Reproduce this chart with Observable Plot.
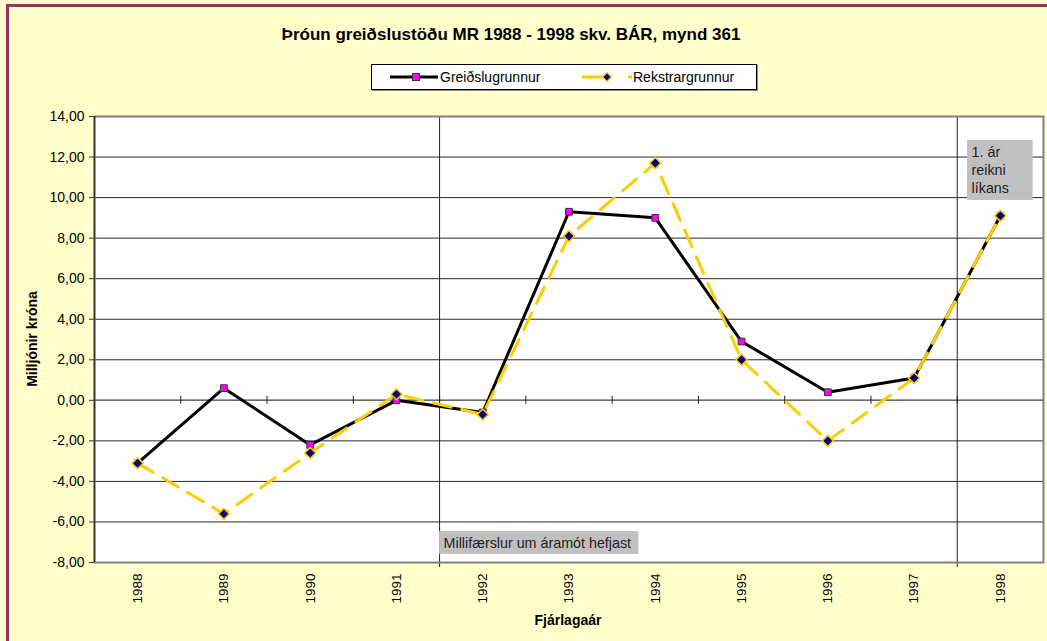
<!DOCTYPE html>
<html>
<head>
<meta charset="utf-8">
<script src="https://cdn.jsdelivr.net/npm/d3@7"></script>
<script src="https://cdn.jsdelivr.net/npm/@observablehq/plot@0.6"></script>
<style>
  html, body { margin: 0; padding: 0; background: #FFFFCC; }
  #wrap { position: relative; width: 1047px; height: 641px; background: #FFFFCC; overflow: hidden; font-family: "Liberation Sans", Arial, sans-serif; }
  #frame { position: absolute; left: 6px; top: 4px; width: 1100px; height: 700px; border-top: 3px solid #993366; border-left: 3px solid #993366; }
  #chart { position: absolute; left: 0; top: 0; }
  #title { position: absolute; top: 25px; left: 0; width: 1022px; text-align: center; font-weight: bold; font-size: 17px; line-height: 20px; color: #000; }
  #legend { position: absolute; left: 371px; top: 64px; width: 384px; height: 24px; background: #fff; border: 1px solid #000; box-shadow: 1px 1px 0 #888; font-size: 14px; }
  #legend .item { position: absolute; top: 0; height: 24px; line-height: 24px; }
  #legend svg { position: absolute; top: 0; }
  #ytitle { position: absolute; left: 32px; top: 339px; transform: translate(-50%, -50%) rotate(-90deg); font-weight: bold; font-size: 14px; white-space: nowrap; }
  #xtitle { position: absolute; left: 568px; top: 620px; transform: translate(-50%, -50%); font-weight: bold; font-size: 14px; white-space: nowrap; }
</style>
</head>
<body>
<div id="wrap">
  <div id="frame"></div>
  <div id="chart"></div>
  <div id="title"></div>
  <div id="legend"></div>
  <div id="ytitle"></div>
  <div id="xtitle"></div>
</div>
<script>
// ---- data ----
const years = [1988, 1989, 1990, 1991, 1992, 1993, 1994, 1995, 1996, 1997, 1998];
const greidslugrunnur = [-3.1, 0.6, -2.2, 0.0, -0.6, 9.3, 9.0, 2.9, 0.4, 1.1, 9.1];
const rekstrargrunnur = [-3.1, -5.6, -2.6, 0.3, -0.7, 8.1, 11.7, 2.0, -2.0, 1.1, 9.1];
const yTicks = [-8, -6, -4, -2, 0, 2, 4, 6, 8, 10, 12, 14];
const seriesNames = ["Greiðslugrunnur", "Rekstrargrunnur"];
const titleText = "Þróun greiðslustöðu MR 1988 - 1998 skv. BÁR, mynd 361";
const yLabel = "Milljónir króna";
const xLabel = "Fjárlagaár";
// dividers between fiscal years (category boundaries)
const dividers = [1991.5, 1997.5];
const annotations = [
  {x1: 1991.5, x2: 1993.81, y1: -7.6, y2: -6.47, lines: ["Millifærslur um áramót hefjast"]},
  {x1: 1997.62, x2: 1998.38, y1: 9.86, y2: 12.82, lines: ["1. ár", "reikni", "líkans"]}
];

const greid = years.map((y, i) => ({year: y, value: greidslugrunnur[i]}));
const rek = years.map((y, i) => ({year: y, value: rekstrargrunnur[i]}));
const boundaryTicks = years.map(y => y - 0.5);
const annoText = annotations.map(a => ({x: a.x1, y: a.y2, t: a.lines.join("\n")}));

const fmt = d => d.toFixed(2).replace(".", ",");

const chart = Plot.plot({
  width: 1047,
  height: 641,
  marginLeft: 94,
  marginRight: 4,
  marginTop: 116,
  marginBottom: 79,
  style: {background: "transparent", fontFamily: "Liberation Sans, Arial, sans-serif", fontSize: "14px", color: "#000", overflow: "visible"},
  x: {type: "linear", domain: [1987.5, 1998.5]},
  y: {domain: [-8, 14]},
  marks: [
    Plot.frame({fill: "white", stroke: null}),
    Plot.ruleY(yTicks, {stroke: "#2a2a2a", strokeWidth: 1}),
    Plot.ruleY([0], {stroke: "#6a6a6a", strokeWidth: 1.5}),
    Plot.ruleX(boundaryTicks, {x: d => d, y1: -0.2, y2: 0.2, stroke: "#222", strokeWidth: 1}),
    Plot.ruleX(dividers, {x: d => d, y1: -8.25, y2: 14, stroke: "#222", strokeWidth: 1, clip: false}),
    Plot.frame({stroke: "#808080", strokeWidth: 2}),
    Plot.ruleX([1987.5], {stroke: "#333", strokeWidth: 1.5}),
    Plot.rect(annotations, {x1: "x1", x2: "x2", y1: "y1", y2: "y2", fill: "#C0C0C0"}),
    Plot.text(annoText, {x: "x", y: "y", text: "t", dx: 4, dy: 3, textAnchor: "start", lineAnchor: "top", lineHeight: 1.29, fontSize: 14.3, fill: "#222"}),
    Plot.line(greid, {x: "year", y: "value", stroke: "#000", strokeWidth: 3}),
    Plot.line(rek, {x: "year", y: "value", stroke: "#FFCC00", strokeWidth: 3, strokeDasharray: "18,11"}),
    Plot.dot(greid, {x: "year", y: "value", symbol: "square", r: 3.8, fill: "#FF00FF", stroke: "#333", strokeWidth: 1}),
    Plot.dot(rek, {x: "year", y: "value", symbol: "diamond2", r: 5, fill: "#000080", stroke: "#FFCC00", strokeWidth: 1.5}),
    Plot.axisY({ticks: yTicks, tickFormat: fmt, tickSize: 5, tickPadding: 5, fontSize: 14, label: null, stroke: "#333"}),
    Plot.axisX({ticks: years, tickFormat: d => String(d), tickRotate: -90, tickSize: 0, tickPadding: 11, fontSize: 13.5, label: null})
  ]
});
document.getElementById("chart").appendChild(chart);

document.getElementById("title").textContent = titleText;
document.getElementById("ytitle").textContent = yLabel;
document.getElementById("xtitle").textContent = xLabel;

// legend
const legend = document.getElementById("legend");
legend.innerHTML = `
  <svg width="60" height="24" style="left:18px">
    <line x1="0" y1="12" x2="48" y2="12" stroke="#000" stroke-width="3"/>
    <rect x="22.5" y="8.5" width="7" height="7" fill="#FF00FF" stroke="#333" stroke-width="1"/>
  </svg>
  <div class="item" style="left:68px">${seriesNames[0]}</div>
  <svg width="60" height="24" style="left:210px">
    <line x1="0" y1="12" x2="50" y2="12" stroke="#FFCC00" stroke-width="3" stroke-dasharray="28,18"/>
    <path d="M25,7.5 L29.5,12 L25,16.5 L20.5,12 Z" fill="#000080" stroke="#FFCC00" stroke-width="1.2"/>
  </svg>
  <div class="item" style="left:261px">${seriesNames[1]}</div>
`;
</script>
</body>
</html>
